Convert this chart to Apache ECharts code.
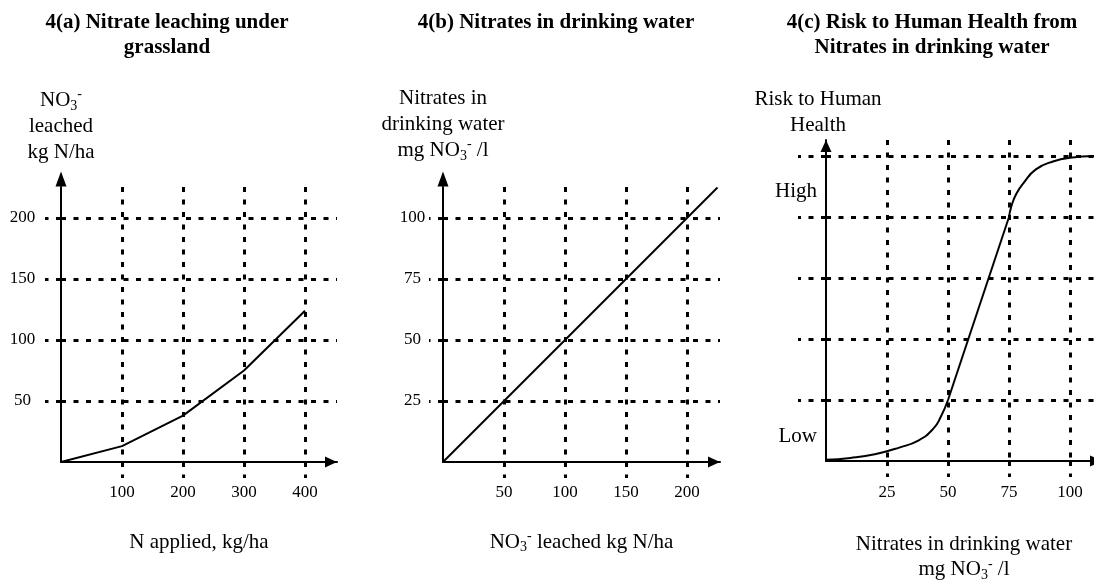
<!DOCTYPE html>
<html>
<head>
<meta charset="utf-8">
<script src="https://cdn.jsdelivr.net/npm/echarts@6/dist/echarts.min.js"></script>
<style>
  html, body { margin: 0; padding: 0; background: #fff; }
  #main { width: 1094px; height: 580px; }
</style>
</head>
<body>
<div id="main"></div>
<script>
// 4(a) nitrate leaching under grassland
var appliedN = [0, 100, 200, 300, 400];
var leachedN = [0, 13, 38, 75, 124];
// 4(b) nitrates in drinking water
var leachedB = [0, 225];
var waterB = [0, 112.5];
// 4(c) risk curve, drawn in three pieces (curved / straight / curved)
var riskLowX = [0, 10, 20, 30, 38, 44, 47, 50];
var riskLowY = [0.02, 0.05, 0.11, 0.22, 0.34, 0.53, 0.72, 1.0];
var riskMidX = [50, 75];
var riskMidY = [1.0, 4.0];
var riskHighX = [75, 76, 78, 81, 86, 93, 100, 113];
var riskHighY = [4.0, 4.18, 4.38, 4.56, 4.78, 4.91, 4.97, 5.0];

// tick labels / grid positions
var ticksAx = [100, 200, 300, 400];
var ticksAy = [50, 100, 150, 200];
var ticksBx = [50, 100, 150, 200];
var ticksBy = [25, 50, 75, 100];
var ticksCx = [25, 50, 75, 100];
var gridCy = [1, 2, 3, 4, 5];
var riskLabels = ['Low', 'High'];
var riskLabelAt = [0.4, 4.41];

var FONT = 'Liberation Serif';

function pts(xs, ys) {
  return xs.map(function (x, i) { return [x, ys[i]]; });
}

var dotted = { color: '#000', width: 3, type: [5, 7.5] };
var rich = {
  s: { fontFamily: FONT, fontSize: 14, color: '#000', lineHeight: 14, verticalAlign: 'bottom' },
  p: { fontFamily: FONT, fontSize: 14, color: '#000', lineHeight: 2, verticalAlign: 'top' }
};
function nameStyle(lh, pad) {
  return { fontFamily: FONT, fontSize: 21, color: '#000', lineHeight: lh, padding: pad || 0, rich: rich };
}

function xAxisOf(idx, max, ticks, name, gap, margin) {
  return {
    type: 'value', gridIndex: idx, min: 0, max: max, interval: ticks[1] - ticks[0],
    name: name, nameLocation: 'middle', nameGap: gap, nameTextStyle: nameStyle(25),
    axisLine: {
      show: true, onZero: false,
      symbol: ['none', 'triangle'], symbolSize: [11, 12], symbolOffset: [0, -6],
      lineStyle: { color: '#000', width: 2 }
    },
    axisTick: { show: true, inside: false, length: 16, customValues: ticks, lineStyle: dotted },
    axisLabel: { customValues: ticks, margin: margin, fontFamily: FONT, fontSize: 17, color: '#000' },
    splitLine: { show: true, lineStyle: dotted }
  };
}

function yAxisOf(idx, max, ticks, interval, name, gap, tickLen, arrow, label, pad) {
  return {
    type: 'value', gridIndex: idx, min: 0, max: max, interval: interval,
    name: name, nameLocation: 'end', nameGap: gap, nameTextStyle: nameStyle(26, pad),
    axisLine: {
      show: true, onZero: false,
      symbol: ['none', 'triangle'], symbolSize: arrow.size, symbolOffset: [0, arrow.offset],
      lineStyle: { color: '#000', width: 2 }
    },
    axisTick: { show: true, inside: false, length: tickLen, customValues: ticks, lineStyle: dotted },
    axisLabel: label,
    splitLine: { show: true, lineStyle: dotted }
  };
}

function lineSeries(xi, data, smooth) {
  return {
    type: 'line', xAxisIndex: xi, yAxisIndex: xi, data: data,
    symbol: 'none', smooth: smooth || false,
    lineStyle: { color: '#000', width: 2 }
  };
}

var titleStyle = { fontFamily: FONT, fontSize: 21, fontWeight: 'bold', color: '#000', lineHeight: 25 };

var chart = echarts.init(document.getElementById('main'));
chart.setOption({
  animation: false,
  backgroundColor: '#fff',
  title: [
    { text: '4(a) Nitrate leaching under\ngrassland', left: 167, top: 10, textAlign: 'center', padding: 0, textStyle: titleStyle },
    { text: '4(b) Nitrates in drinking water', left: 556, top: 10, textAlign: 'center', padding: 0, textStyle: titleStyle },
    { text: '4(c) Risk to Human Health from\nNitrates in drinking water', left: 932, top: 10, textAlign: 'center', padding: 0, textStyle: titleStyle }
  ],
  grid: [
    { left: 61, top: 187, width: 276, height: 275, outerBoundsMode: 'none' },
    { left: 443, top: 187, width: 277, height: 275, outerBoundsMode: 'none' },
    { left: 826, top: 140, width: 276, height: 321, outerBoundsMode: 'none' }
  ],
  xAxis: [
    xAxisOf(0, 452.46, ticksAx, 'N applied, kg/ha', 67.5, 22),
    xAxisOf(1, 227.05, ticksBx, 'NO{s|3}{p|-} leached kg N/ha', 67.5, 22),
    xAxisOf(2, 113.1, ticksCx, 'Nitrates in drinking water\nmg NO{s|3}{p|-} /l', 71, 23)
  ],
  yAxis: [
    yAxisOf(0, 225.4, ticksAy, 50, 'NO{s|3}{p|-}\nleached\nkg N/ha', 22, 16,
      { size: [11, 15], offset: 8 },
      { customValues: ticksAy, margin: 38.5, align: 'center', fontFamily: FONT, fontSize: 17, color: '#000' }),
    yAxisOf(1, 112.7, ticksBy, 25, 'Nitrates in\ndrinking water\nmg NO{s|3}{p|-} /l', 24, 14,
      { size: [11, 15], offset: 8 },
      { customValues: ticksBy, margin: 30.5, align: 'center', fontFamily: FONT, fontSize: 17, color: '#000' }),
    yAxisOf(2, 5.262, gridCy, 1, 'Risk to Human\nHealth', 2, 28,
      { size: [11, 12], offset: -6 },
      {
        customValues: riskLabelAt, margin: 9, align: 'right', fontFamily: FONT, fontSize: 21, color: '#000',
        formatter: function (v) { return riskLabels[riskLabelAt.indexOf(v)]; }
      },
      [0, 16, 0, 0])
  ],
  series: [
    lineSeries(0, pts(appliedN, leachedN)),
    lineSeries(1, pts(leachedB, waterB)),
    lineSeries(2, pts(riskLowX, riskLowY), 0.5),
    lineSeries(2, pts(riskMidX, riskMidY)),
    lineSeries(2, pts(riskHighX, riskHighY), 0.5)
  ]
});
</script>
</body>
</html>
